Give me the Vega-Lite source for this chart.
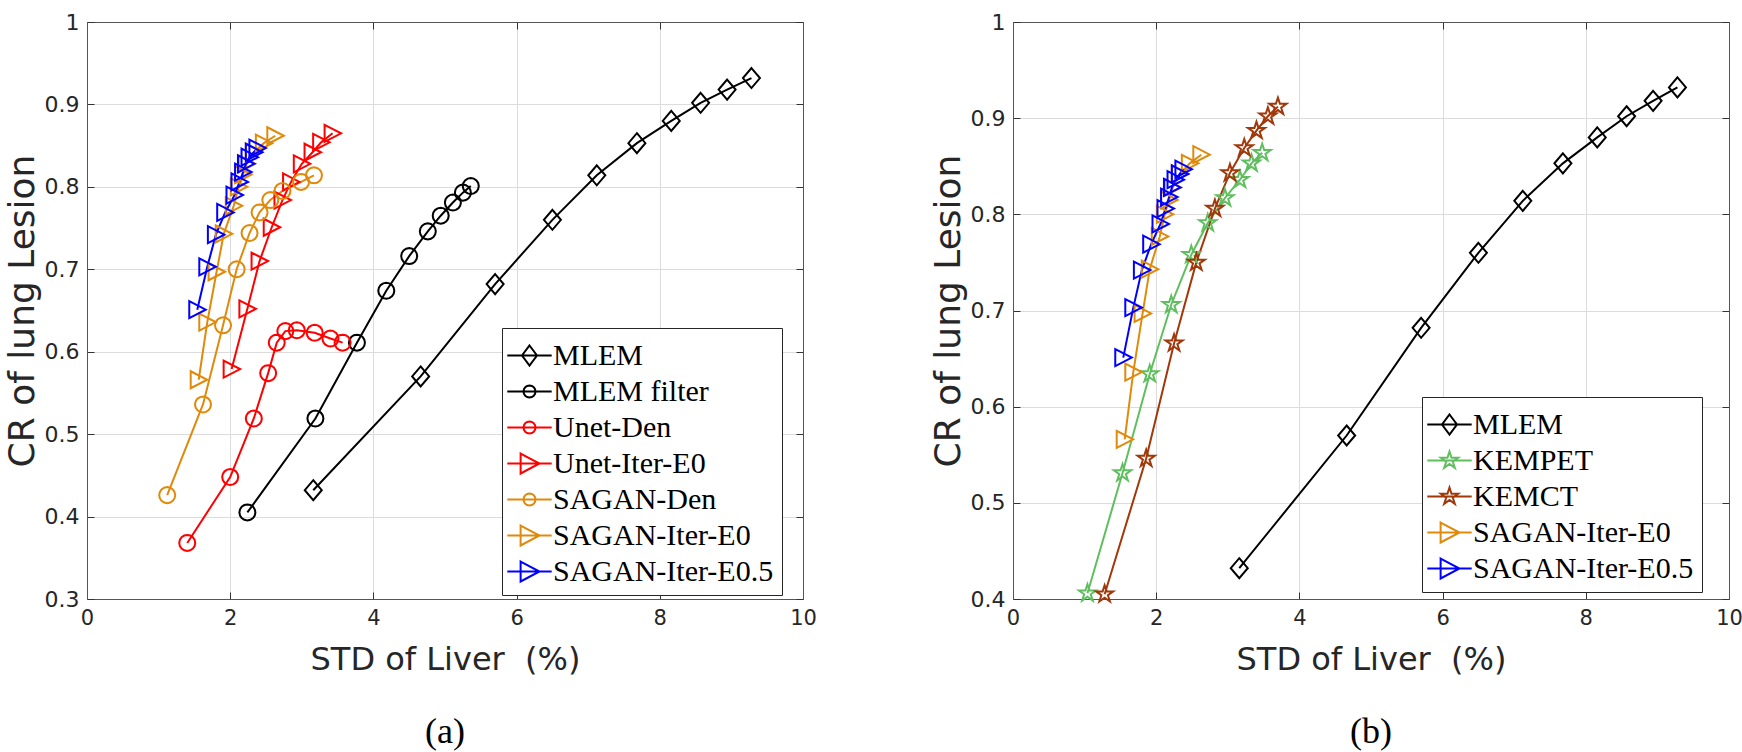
{
  "$schema": "https://vega.github.io/schema/vega-lite/v6.json",
  "padding": {"left": 4, "top": 11, "right": 4, "bottom": 2},
  "bounds": "flush",
  "spacing": 210,
  "background": "white",
  "datasets": {
    "a": [
      {"series": "MLEM", "i": 1, "x": 3.16, "y": 0.432},
      {"series": "MLEM", "i": 2, "x": 4.66, "y": 0.570},
      {"series": "MLEM", "i": 3, "x": 5.70, "y": 0.682},
      {"series": "MLEM", "i": 4, "x": 6.50, "y": 0.760},
      {"series": "MLEM", "i": 5, "x": 7.12, "y": 0.814},
      {"series": "MLEM", "i": 6, "x": 7.68, "y": 0.853},
      {"series": "MLEM", "i": 7, "x": 8.16, "y": 0.880},
      {"series": "MLEM", "i": 8, "x": 8.57, "y": 0.902},
      {"series": "MLEM", "i": 9, "x": 8.94, "y": 0.918},
      {"series": "MLEM", "i": 10, "x": 9.28, "y": 0.932},
      {"series": "MLEM filter", "i": 1, "x": 2.24, "y": 0.405},
      {"series": "MLEM filter", "i": 2, "x": 3.19, "y": 0.519},
      {"series": "MLEM filter", "i": 3, "x": 3.77, "y": 0.611},
      {"series": "MLEM filter", "i": 4, "x": 4.18, "y": 0.674},
      {"series": "MLEM filter", "i": 5, "x": 4.50, "y": 0.716},
      {"series": "MLEM filter", "i": 6, "x": 4.76, "y": 0.746},
      {"series": "MLEM filter", "i": 7, "x": 4.94, "y": 0.765},
      {"series": "MLEM filter", "i": 8, "x": 5.11, "y": 0.781},
      {"series": "MLEM filter", "i": 9, "x": 5.25, "y": 0.793},
      {"series": "MLEM filter", "i": 10, "x": 5.36, "y": 0.801},
      {"series": "Unet-Den", "i": 1, "x": 1.40, "y": 0.368},
      {"series": "Unet-Den", "i": 2, "x": 2.00, "y": 0.448},
      {"series": "Unet-Den", "i": 3, "x": 2.33, "y": 0.519},
      {"series": "Unet-Den", "i": 4, "x": 2.53, "y": 0.574},
      {"series": "Unet-Den", "i": 5, "x": 2.65, "y": 0.611},
      {"series": "Unet-Den", "i": 6, "x": 2.77, "y": 0.625},
      {"series": "Unet-Den", "i": 7, "x": 2.93, "y": 0.626},
      {"series": "Unet-Den", "i": 8, "x": 3.18, "y": 0.623},
      {"series": "Unet-Den", "i": 9, "x": 3.40, "y": 0.616},
      {"series": "Unet-Den", "i": 10, "x": 3.57, "y": 0.611},
      {"series": "Unet-Iter-E0", "i": 1, "x": 2.02, "y": 0.579},
      {"series": "Unet-Iter-E0", "i": 2, "x": 2.24, "y": 0.652},
      {"series": "Unet-Iter-E0", "i": 3, "x": 2.41, "y": 0.710},
      {"series": "Unet-Iter-E0", "i": 4, "x": 2.58, "y": 0.751},
      {"series": "Unet-Iter-E0", "i": 5, "x": 2.73, "y": 0.784},
      {"series": "Unet-Iter-E0", "i": 6, "x": 2.85, "y": 0.806},
      {"series": "Unet-Iter-E0", "i": 7, "x": 3.00, "y": 0.828},
      {"series": "Unet-Iter-E0", "i": 8, "x": 3.15, "y": 0.842},
      {"series": "Unet-Iter-E0", "i": 9, "x": 3.27, "y": 0.854},
      {"series": "Unet-Iter-E0", "i": 10, "x": 3.43, "y": 0.865},
      {"series": "SAGAN-Den", "i": 1, "x": 1.12, "y": 0.426},
      {"series": "SAGAN-Den", "i": 2, "x": 1.62, "y": 0.536},
      {"series": "SAGAN-Den", "i": 3, "x": 1.90, "y": 0.632},
      {"series": "SAGAN-Den", "i": 4, "x": 2.09, "y": 0.700},
      {"series": "SAGAN-Den", "i": 5, "x": 2.27, "y": 0.744},
      {"series": "SAGAN-Den", "i": 6, "x": 2.41, "y": 0.769},
      {"series": "SAGAN-Den", "i": 7, "x": 2.56, "y": 0.784},
      {"series": "SAGAN-Den", "i": 8, "x": 2.73, "y": 0.795},
      {"series": "SAGAN-Den", "i": 9, "x": 2.99, "y": 0.806},
      {"series": "SAGAN-Den", "i": 10, "x": 3.17, "y": 0.814},
      {"series": "SAGAN-Iter-E0", "i": 1, "x": 1.56, "y": 0.566},
      {"series": "SAGAN-Iter-E0", "i": 2, "x": 1.68, "y": 0.636},
      {"series": "SAGAN-Iter-E0", "i": 3, "x": 1.81, "y": 0.697},
      {"series": "SAGAN-Iter-E0", "i": 4, "x": 1.91, "y": 0.743},
      {"series": "SAGAN-Iter-E0", "i": 5, "x": 2.05, "y": 0.777},
      {"series": "SAGAN-Iter-E0", "i": 6, "x": 2.12, "y": 0.800},
      {"series": "SAGAN-Iter-E0", "i": 7, "x": 2.18, "y": 0.815},
      {"series": "SAGAN-Iter-E0", "i": 8, "x": 2.23, "y": 0.828},
      {"series": "SAGAN-Iter-E0", "i": 9, "x": 2.33, "y": 0.842},
      {"series": "SAGAN-Iter-E0", "i": 10, "x": 2.47, "y": 0.853},
      {"series": "SAGAN-Iter-E0", "i": 11, "x": 2.63, "y": 0.862},
      {"series": "SAGAN-Iter-E0.5", "i": 1, "x": 1.54, "y": 0.651},
      {"series": "SAGAN-Iter-E0.5", "i": 2, "x": 1.68, "y": 0.703},
      {"series": "SAGAN-Iter-E0.5", "i": 3, "x": 1.80, "y": 0.742},
      {"series": "SAGAN-Iter-E0.5", "i": 4, "x": 1.93, "y": 0.769},
      {"series": "SAGAN-Iter-E0.5", "i": 5, "x": 2.06, "y": 0.790},
      {"series": "SAGAN-Iter-E0.5", "i": 6, "x": 2.13, "y": 0.806},
      {"series": "SAGAN-Iter-E0.5", "i": 7, "x": 2.18, "y": 0.818},
      {"series": "SAGAN-Iter-E0.5", "i": 8, "x": 2.22, "y": 0.828},
      {"series": "SAGAN-Iter-E0.5", "i": 9, "x": 2.27, "y": 0.836},
      {"series": "SAGAN-Iter-E0.5", "i": 10, "x": 2.33, "y": 0.842},
      {"series": "SAGAN-Iter-E0.5", "i": 11, "x": 2.38, "y": 0.847}
    ],
    "b": [
      {"series": "MLEM", "i": 1, "x": 3.16, "y": 0.432},
      {"series": "MLEM", "i": 2, "x": 4.66, "y": 0.570},
      {"series": "MLEM", "i": 3, "x": 5.70, "y": 0.682},
      {"series": "MLEM", "i": 4, "x": 6.50, "y": 0.760},
      {"series": "MLEM", "i": 5, "x": 7.12, "y": 0.814},
      {"series": "MLEM", "i": 6, "x": 7.68, "y": 0.853},
      {"series": "MLEM", "i": 7, "x": 8.16, "y": 0.880},
      {"series": "MLEM", "i": 8, "x": 8.57, "y": 0.902},
      {"series": "MLEM", "i": 9, "x": 8.94, "y": 0.918},
      {"series": "MLEM", "i": 10, "x": 9.28, "y": 0.932},
      {"series": "KEMPET", "i": 1, "x": 1.04, "y": 0.406},
      {"series": "KEMPET", "i": 2, "x": 1.53, "y": 0.531},
      {"series": "KEMPET", "i": 3, "x": 1.91, "y": 0.634},
      {"series": "KEMPET", "i": 4, "x": 2.21, "y": 0.706},
      {"series": "KEMPET", "i": 5, "x": 2.49, "y": 0.758},
      {"series": "KEMPET", "i": 6, "x": 2.72, "y": 0.791},
      {"series": "KEMPET", "i": 7, "x": 2.96, "y": 0.817},
      {"series": "KEMPET", "i": 8, "x": 3.17, "y": 0.836},
      {"series": "KEMPET", "i": 9, "x": 3.33, "y": 0.853},
      {"series": "KEMPET", "i": 10, "x": 3.48, "y": 0.864},
      {"series": "KEMCT", "i": 1, "x": 1.28, "y": 0.405},
      {"series": "KEMCT", "i": 2, "x": 1.86, "y": 0.546},
      {"series": "KEMCT", "i": 3, "x": 2.25, "y": 0.666},
      {"series": "KEMCT", "i": 4, "x": 2.56, "y": 0.750},
      {"series": "KEMCT", "i": 5, "x": 2.82, "y": 0.806},
      {"series": "KEMCT", "i": 6, "x": 3.03, "y": 0.843},
      {"series": "KEMCT", "i": 7, "x": 3.23, "y": 0.869},
      {"series": "KEMCT", "i": 8, "x": 3.40, "y": 0.887},
      {"series": "KEMCT", "i": 9, "x": 3.56, "y": 0.902},
      {"series": "KEMCT", "i": 10, "x": 3.70, "y": 0.912},
      {"series": "SAGAN-Iter-E0", "i": 1, "x": 1.56, "y": 0.566},
      {"series": "SAGAN-Iter-E0", "i": 2, "x": 1.68, "y": 0.636},
      {"series": "SAGAN-Iter-E0", "i": 3, "x": 1.81, "y": 0.697},
      {"series": "SAGAN-Iter-E0", "i": 4, "x": 1.91, "y": 0.743},
      {"series": "SAGAN-Iter-E0", "i": 5, "x": 2.05, "y": 0.777},
      {"series": "SAGAN-Iter-E0", "i": 6, "x": 2.12, "y": 0.800},
      {"series": "SAGAN-Iter-E0", "i": 7, "x": 2.18, "y": 0.815},
      {"series": "SAGAN-Iter-E0", "i": 8, "x": 2.23, "y": 0.828},
      {"series": "SAGAN-Iter-E0", "i": 9, "x": 2.33, "y": 0.842},
      {"series": "SAGAN-Iter-E0", "i": 10, "x": 2.47, "y": 0.853},
      {"series": "SAGAN-Iter-E0", "i": 11, "x": 2.63, "y": 0.862},
      {"series": "SAGAN-Iter-E0.5", "i": 1, "x": 1.54, "y": 0.651},
      {"series": "SAGAN-Iter-E0.5", "i": 2, "x": 1.68, "y": 0.703},
      {"series": "SAGAN-Iter-E0.5", "i": 3, "x": 1.80, "y": 0.742},
      {"series": "SAGAN-Iter-E0.5", "i": 4, "x": 1.93, "y": 0.769},
      {"series": "SAGAN-Iter-E0.5", "i": 5, "x": 2.06, "y": 0.790},
      {"series": "SAGAN-Iter-E0.5", "i": 6, "x": 2.13, "y": 0.806},
      {"series": "SAGAN-Iter-E0.5", "i": 7, "x": 2.18, "y": 0.818},
      {"series": "SAGAN-Iter-E0.5", "i": 8, "x": 2.22, "y": 0.828},
      {"series": "SAGAN-Iter-E0.5", "i": 9, "x": 2.27, "y": 0.836},
      {"series": "SAGAN-Iter-E0.5", "i": 10, "x": 2.33, "y": 0.842},
      {"series": "SAGAN-Iter-E0.5", "i": 11, "x": 2.38, "y": 0.847}
    ]
  },
  "hconcat": [
    {
      "width": 716,
      "height": 577,
      "data": {"name": "a"},
      "title": {"text": "(a)", "orient": "bottom", "anchor": "middle", "offset": 40, "font": "Liberation Serif", "fontSize": 36, "fontWeight": "normal", "color": "#000000"},
      "layer": [
        {
          "mark": {"type": "line", "strokeWidth": 2},
          "encoding": {
            "x": {"field": "x", "type": "quantitative", "scale": {"domain": [0, 10], "nice": false, "zero": false},
              "axis": {"orient": "bottom", "values": [0, 2, 4, 6, 8, 10], "title": "STD of Liver \u00a0(%)", "grid": true, "gridColor": "#dcdcdc", "domainColor": "#555555", "tickColor": "#333333", "tickSize": -7, "labelFont": "DejaVu Sans", "labelFontSize": 21, "labelColor": "#262626", "labelPadding": 15, "titleFont": "DejaVu Sans", "titleFontSize": 32, "titleFontWeight": "normal", "titleColor": "#262626", "titlePadding": 16}},
            "y": {"field": "y", "type": "quantitative", "scale": {"domain": [0.3, 1], "nice": false, "zero": false},
              "axis": {"orient": "left", "values": [0.3, 0.4, 0.5, 0.6, 0.7, 0.8, 0.9, 1], "format": ".1~f", "title": "CR of lung Lesion", "grid": true, "gridColor": "#dcdcdc", "domainColor": "#555555", "tickColor": "#333333", "tickSize": -7, "labelFont": "DejaVu Sans", "labelFontSize": 22, "labelColor": "#262626", "labelPadding": 15, "titleFont": "DejaVu Sans", "titleFontSize": 36, "titleFontWeight": "normal", "titleColor": "#262626", "titlePadding": 3}},
            "color": {"field": "series", "type": "nominal", "legend": null,
              "scale": {"domain": ["MLEM", "MLEM filter", "Unet-Den", "Unet-Iter-E0", "SAGAN-Den", "SAGAN-Iter-E0", "SAGAN-Iter-E0.5"], "range": ["#000000", "#000000", "#ff0000", "#ff0000", "#e08a0b", "#e08a0b", "#0000ff"]}},
            "order": {"field": "i", "type": "quantitative"}
          }
        },
        {
          "mark": {"type": "point", "filled": false, "strokeWidth": 2, "size": 400, "opacity": 1},
          "encoding": {
            "x": {"field": "x", "type": "quantitative",
              "axis": {"orient": "top", "values": [0, 2, 4, 6, 8, 10], "labels": false, "grid": false, "title": null, "domainColor": "#555555", "tickColor": "#333333", "tickSize": -7}},
            "y": {"field": "y", "type": "quantitative",
              "axis": {"orient": "right", "values": [0.3, 0.4, 0.5, 0.6, 0.7, 0.8, 0.9, 1], "labels": false, "grid": false, "title": null, "domainColor": "#555555", "tickColor": "#333333", "tickSize": -7}},
            "color": {"field": "series", "type": "nominal", "legend": null,
              "scale": {"domain": ["MLEM", "MLEM filter", "Unet-Den", "Unet-Iter-E0", "SAGAN-Den", "SAGAN-Iter-E0", "SAGAN-Iter-E0.5"], "range": ["#000000", "#000000", "#ff0000", "#ff0000", "#e08a0b", "#e08a0b", "#0000ff"]}},
            "shape": {"field": "series", "type": "nominal", "legend": null,
              "scale": {"domain": ["MLEM", "MLEM filter", "SAGAN-Den", "SAGAN-Iter-E0", "SAGAN-Iter-E0.5", "Unet-Den", "Unet-Iter-E0"],
                "range": [
                  "M0,-1L0.85,0L0,1L-0.85,0Z",
                  "M0.8,0L0.739,0.306L0.566,0.566L0.306,0.739L0,0.8L-0.306,0.739L-0.566,0.566L-0.739,0.306L-0.8,0L-0.739,-0.306L-0.566,-0.566L-0.306,-0.739L0,-0.8L0.306,-0.739L0.566,-0.566L0.739,-0.306Z",
                  "M0.8,0L0.739,0.306L0.566,0.566L0.306,0.739L0,0.8L-0.306,0.739L-0.566,0.566L-0.739,0.306L-0.8,0L-0.739,-0.306L-0.566,-0.566L-0.306,-0.739L0,-0.8L0.306,-0.739L0.566,-0.566L0.739,-0.306Z",
                  "M-0.8,-0.85L0.85,0L-0.8,0.85Z",
                  "M-0.8,-0.85L0.85,0L-0.8,0.85Z",
                  "M0.8,0L0.739,0.306L0.566,0.566L0.306,0.739L0,0.8L-0.306,0.739L-0.566,0.566L-0.739,0.306L-0.8,0L-0.739,-0.306L-0.566,-0.566L-0.306,-0.739L0,-0.8L0.306,-0.739L0.566,-0.566L0.739,-0.306Z",
                  "M-0.8,-0.85L0.85,0L-0.8,0.85Z"
                ]}}
          }
        },
        {
          "mark": {"type": "point", "filled": false, "strokeWidth": 2, "size": 1369, "opacity": 0},
          "encoding": {
            "x": {"field": "x", "type": "quantitative", "axis": null},
            "y": {"field": "y", "type": "quantitative", "axis": null},
            "color": {"field": "series", "type": "nominal",
              "scale": {"domain": ["MLEM", "MLEM filter", "Unet-Den", "Unet-Iter-E0", "SAGAN-Den", "SAGAN-Iter-E0", "SAGAN-Iter-E0.5"], "range": ["#000000", "#000000", "#ff0000", "#ff0000", "#e08a0b", "#e08a0b", "#0000ff"]},
              "legend": {"orient": "none", "legendX": 415, "legendY": 306, "title": null, "padding": 8, "strokeColor": "#262626", "fillColor": "white", "labelFont": "Liberation Serif", "labelFontSize": 30, "labelColor": "#000000", "symbolSize": 1369, "symbolStrokeWidth": 2, "symbolOpacity": 1, "labelOffset": 4, "rowPadding": 1, "labelLimit": 400}},
            "shape": {"field": "series", "type": "nominal",
              "scale": {"domain": ["MLEM", "MLEM filter", "Unet-Den", "Unet-Iter-E0", "SAGAN-Den", "SAGAN-Iter-E0", "SAGAN-Iter-E0.5"],
                "range": [
                  "M-1.2,0H1.2M0,-0.54L0.405,0L0,0.54L-0.405,0Z",
                  "M-1.2,0H1.2M0.324,0L0.299,0.124L0.229,0.229L0.124,0.299L0,0.324L-0.124,0.299L-0.229,0.229L-0.299,0.124L-0.324,0L-0.299,-0.124L-0.229,-0.229L-0.124,-0.299L0,-0.324L0.124,-0.299L0.229,-0.229L0.299,-0.124Z",
                  "M-1.2,0H1.2M0.324,0L0.299,0.124L0.229,0.229L0.124,0.299L0,0.324L-0.124,0.299L-0.229,0.229L-0.299,0.124L-0.324,0L-0.299,-0.124L-0.229,-0.229L-0.124,-0.299L0,-0.324L0.124,-0.299L0.229,-0.229L0.299,-0.124Z",
                  "M-1.2,0H1.2M-0.48,-0.54L0.54,0L-0.48,0.54Z",
                  "M-1.2,0H1.2M0.324,0L0.299,0.124L0.229,0.229L0.124,0.299L0,0.324L-0.124,0.299L-0.229,0.229L-0.299,0.124L-0.324,0L-0.299,-0.124L-0.229,-0.229L-0.124,-0.299L0,-0.324L0.124,-0.299L0.229,-0.229L0.299,-0.124Z",
                  "M-1.2,0H1.2M-0.48,-0.54L0.54,0L-0.48,0.54Z",
                  "M-1.2,0H1.2M-0.48,-0.54L0.54,0L-0.48,0.54Z"
                ]},
              "legend": {"orient": "none", "legendX": 415, "legendY": 306, "title": null}}
          }
        }
      ],
      "resolve": {"scale": {"color": "independent", "shape": "independent"}, "axis": {"x": "independent", "y": "independent"}}
    },
    {
      "width": 716,
      "height": 577,
      "data": {"name": "b"},
      "title": {"text": "(b)", "orient": "bottom", "anchor": "middle", "offset": 40, "font": "Liberation Serif", "fontSize": 36, "fontWeight": "normal", "color": "#000000"},
      "layer": [
        {
          "mark": {"type": "line", "strokeWidth": 2},
          "encoding": {
            "x": {"field": "x", "type": "quantitative", "scale": {"domain": [0, 10], "nice": false, "zero": false},
              "axis": {"orient": "bottom", "values": [0, 2, 4, 6, 8, 10], "title": "STD of Liver \u00a0(%)", "grid": true, "gridColor": "#dcdcdc", "domainColor": "#555555", "tickColor": "#333333", "tickSize": -7, "labelFont": "DejaVu Sans", "labelFontSize": 21, "labelColor": "#262626", "labelPadding": 15, "titleFont": "DejaVu Sans", "titleFontSize": 32, "titleFontWeight": "normal", "titleColor": "#262626", "titlePadding": 16}},
            "y": {"field": "y", "type": "quantitative", "scale": {"domain": [0.4, 1], "nice": false, "zero": false},
              "axis": {"orient": "left", "values": [0.4, 0.5, 0.6, 0.7, 0.8, 0.9, 1], "format": ".1~f", "title": "CR of lung Lesion", "grid": true, "gridColor": "#dcdcdc", "domainColor": "#555555", "tickColor": "#333333", "tickSize": -7, "labelFont": "DejaVu Sans", "labelFontSize": 22, "labelColor": "#262626", "labelPadding": 15, "titleFont": "DejaVu Sans", "titleFontSize": 36, "titleFontWeight": "normal", "titleColor": "#262626", "titlePadding": 3}},
            "color": {"field": "series", "type": "nominal", "legend": null,
              "scale": {"domain": ["MLEM", "KEMPET", "KEMCT", "SAGAN-Iter-E0", "SAGAN-Iter-E0.5"], "range": ["#000000", "#5fbf5f", "#a0380a", "#e08a0b", "#0000ff"]}},
            "order": {"field": "i", "type": "quantitative"}
          }
        },
        {
          "mark": {"type": "point", "filled": false, "strokeWidth": 2, "size": 400, "opacity": 1},
          "encoding": {
            "x": {"field": "x", "type": "quantitative",
              "axis": {"orient": "top", "values": [0, 2, 4, 6, 8, 10], "labels": false, "grid": false, "title": null, "domainColor": "#555555", "tickColor": "#333333", "tickSize": -7}},
            "y": {"field": "y", "type": "quantitative",
              "axis": {"orient": "right", "values": [0.4, 0.5, 0.6, 0.7, 0.8, 0.9, 1], "labels": false, "grid": false, "title": null, "domainColor": "#555555", "tickColor": "#333333", "tickSize": -7}},
            "color": {"field": "series", "type": "nominal", "legend": null,
              "scale": {"domain": ["MLEM", "KEMPET", "KEMCT", "SAGAN-Iter-E0", "SAGAN-Iter-E0.5"], "range": ["#000000", "#5fbf5f", "#a0380a", "#e08a0b", "#0000ff"]}},
            "shape": {"field": "series", "type": "nominal", "legend": null,
              "scale": {"domain": ["KEMCT", "KEMPET", "MLEM", "SAGAN-Iter-E0", "SAGAN-Iter-E0.5"],
                "range": [
                  "M0,-0.9L0.202,-0.278L0.856,-0.278L0.327,0.106L0.529,0.728L0,0.344L-0.529,0.728L-0.327,0.106L-0.856,-0.278L-0.202,-0.278Z",
                  "M0,-0.9L0.202,-0.278L0.856,-0.278L0.327,0.106L0.529,0.728L0,0.344L-0.529,0.728L-0.327,0.106L-0.856,-0.278L-0.202,-0.278Z",
                  "M0,-1L0.85,0L0,1L-0.85,0Z",
                  "M-0.8,-0.85L0.85,0L-0.8,0.85Z",
                  "M-0.8,-0.85L0.85,0L-0.8,0.85Z"
                ]}}
          }
        },
        {
          "mark": {"type": "point", "filled": false, "strokeWidth": 2, "size": 1369, "opacity": 0},
          "encoding": {
            "x": {"field": "x", "type": "quantitative", "axis": null},
            "y": {"field": "y", "type": "quantitative", "axis": null},
            "color": {"field": "series", "type": "nominal",
              "scale": {"domain": ["MLEM", "KEMPET", "KEMCT", "SAGAN-Iter-E0", "SAGAN-Iter-E0.5"], "range": ["#000000", "#5fbf5f", "#a0380a", "#e08a0b", "#0000ff"]},
              "legend": {"orient": "none", "legendX": 409, "legendY": 375, "title": null, "padding": 8, "strokeColor": "#262626", "fillColor": "white", "labelFont": "Liberation Serif", "labelFontSize": 30, "labelColor": "#000000", "symbolSize": 1369, "symbolStrokeWidth": 2, "symbolOpacity": 1, "labelOffset": 4, "rowPadding": 1, "labelLimit": 400}},
            "shape": {"field": "series", "type": "nominal",
              "scale": {"domain": ["MLEM", "KEMPET", "KEMCT", "SAGAN-Iter-E0", "SAGAN-Iter-E0.5"],
                "range": [
                  "M-1.2,0H1.2M0,-0.54L0.405,0L0,0.54L-0.405,0Z",
                  "M-1.2,0H1.2M0,-0.49L0.110,-0.151L0.466,-0.151L0.178,0.058L0.288,0.396L0,0.187L-0.288,0.396L-0.178,0.058L-0.466,-0.151L-0.110,-0.151Z",
                  "M-1.2,0H1.2M0,-0.49L0.110,-0.151L0.466,-0.151L0.178,0.058L0.288,0.396L0,0.187L-0.288,0.396L-0.178,0.058L-0.466,-0.151L-0.110,-0.151Z",
                  "M-1.2,0H1.2M-0.48,-0.54L0.54,0L-0.48,0.54Z",
                  "M-1.2,0H1.2M-0.48,-0.54L0.54,0L-0.48,0.54Z"
                ]},
              "legend": {"orient": "none", "legendX": 409, "legendY": 375, "title": null}}
          }
        }
      ],
      "resolve": {"scale": {"color": "independent", "shape": "independent"}, "axis": {"x": "independent", "y": "independent"}}
    }
  ],
  "resolve": {"scale": {"color": "independent", "shape": "independent", "x": "independent", "y": "independent"}, "legend": {"color": "independent", "shape": "independent"}},
  "config": {
    "view": {"stroke": null},
    "axis": {"labelOverlap": false, "labelFlush": false}
  }
}
